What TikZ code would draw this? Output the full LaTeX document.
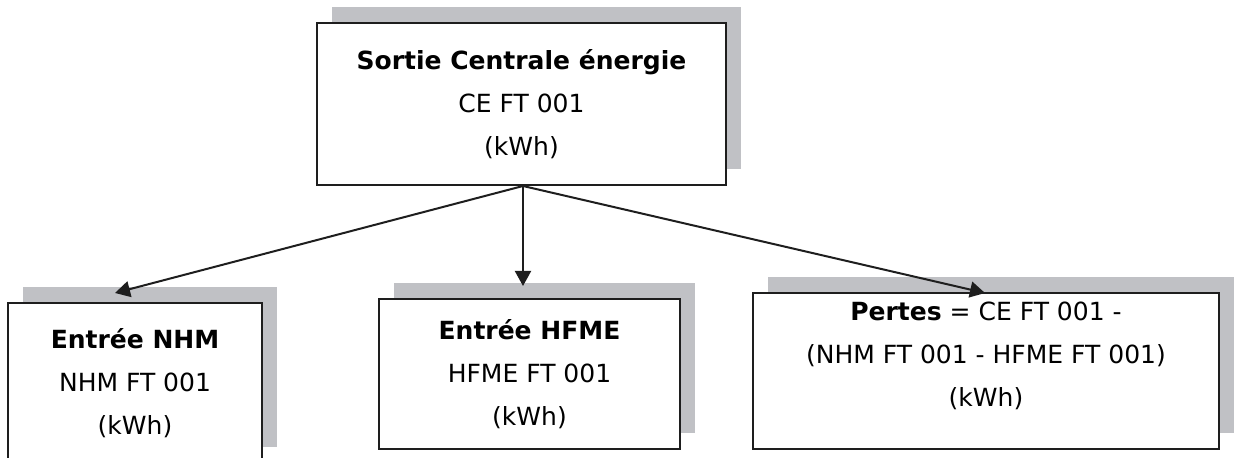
\documentclass[tikz,border=0pt]{standalone}
\usepackage{fontspec}
\setmainfont{DejaVu Sans}
\usepackage{xcolor}
\usepackage{tikz}
\usetikzlibrary{arrows.meta,shadows}
\definecolor{ombre}{RGB}{192,193,197}
\definecolor{trait}{RGB}{30,30,30}

\begin{document}
\begin{tikzpicture}[x=0.5pt, y=-0.5pt, >=Triangle, line width=1pt,
    boite/.style={draw=trait, fill=white, align=center, inner sep=0pt,
        font=\fontsize{12.5}{21.5}\selectfont,
        general shadow={fill=ombre, shadow xshift=7.5pt, shadow yshift=8pt}},
    fleche/.style={->, draw=trait, -{Triangle[length=7.5pt,width=8pt]}}]
    \useasboundingbox (0,0) rectangle (1237,458);
    \node[boite, minimum width=204.5pt, minimum height=81pt] (ce) at (521.5,104)
        {\textbf{Sortie Centrale énergie}\\CE FT 001\\(kWh)};
    \node[boite, minimum width=127pt, minimum height=80pt] (nhm) at (135,383)
        {\textbf{Entrée NHM}\\NHM FT 001\\(kWh)};
    \node[boite, minimum width=150.5pt, minimum height=75pt] (hfme) at (529.5,374)
        {\textbf{Entrée HFME}\\HFME FT 001\\(kWh)};
    \node[boite, minimum width=233pt, minimum height=78pt, text depth=17pt] (pertes) at (986,371)
        {\textbf{Pertes} = CE FT 001 -\\(NHM FT 001 - HFME FT 001)\\(kWh)};
    \coordinate (pnhm) at (115,293);
    \coordinate (phfme) at (523,286);
    \coordinate (ppertes) at (985,293);
    \draw[fleche] ([xshift=0.75pt]ce.south) -- (pnhm);
    \draw[fleche] ([xshift=0.75pt]ce.south) -- (phfme);
    \draw[fleche] ([xshift=0.75pt]ce.south) -- (ppertes);
\end{tikzpicture}
\end{document}
